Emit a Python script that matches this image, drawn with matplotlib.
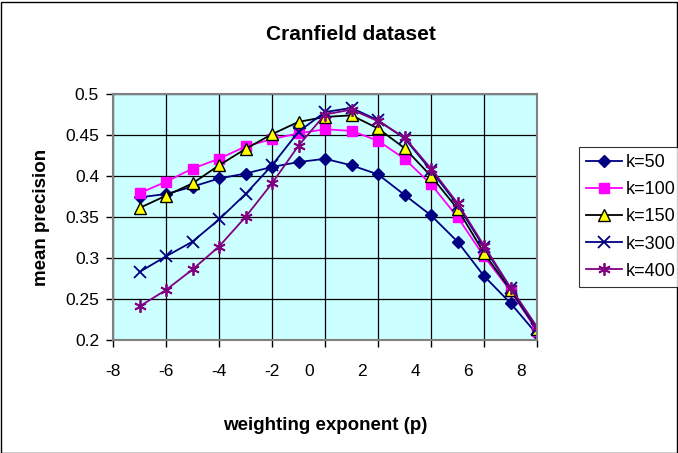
import matplotlib
matplotlib.use('Agg')
import matplotlib.pyplot as plt
from matplotlib.patches import Rectangle
from matplotlib.transforms import ScaledTranslation

plt.rcParams['font.family'] = ['Liberation Sans', 'DejaVu Sans']
plt.rcParams['axes.unicode_minus'] = False

p = [-7, -6, -5, -4, -3, -2, -1, 0, 1, 2, 3, 4, 5, 6, 7, 8]
k50 = [0.374, 0.378, 0.387, 0.397, 0.403, 0.411, 0.417, 0.421, 0.413, 0.402,
       0.377, 0.352, 0.320, 0.278, 0.245, 0.207]
k100 = [0.379, 0.393, 0.409, 0.421, 0.436, 0.445, 0.452, 0.457, 0.455, 0.443,
        0.421, 0.390, 0.350, 0.302, 0.260, 0.211]
k150 = [0.361, 0.376, 0.391, 0.413, 0.433, 0.451, 0.466, 0.472, 0.474, 0.458,
        0.434, 0.400, 0.360, 0.306, 0.261, 0.213]
k300 = [0.283, 0.302, 0.320, 0.347, 0.378, 0.413, 0.454, 0.478, 0.483, 0.468,
        0.446, 0.407, 0.365, 0.313, 0.263, 0.214]
k400 = [0.241, 0.261, 0.286, 0.314, 0.350, 0.391, 0.437, 0.475, 0.481, 0.467,
        0.447, 0.409, 0.367, 0.315, 0.264, 0.216]
yticks = [0.2, 0.25, 0.3, 0.35, 0.4, 0.45, 0.5]
ylabels = ['0.2', '0.25', '0.3', '0.35', '0.4', '0.45', '0.5']

W, H = 678, 453
fig = plt.figure(figsize=(W / 100, H / 100), dpi=100)
fig.patches.append(Rectangle((0.5 / W, 0.5 / H), 1 - 2 / W, 1 - 2 / H,
                             transform=fig.transFigure, fill=False,
                             edgecolor='black', linewidth=1))

ax = fig.add_axes([113 / W, (H - 340) / H, 424 / W, 246 / H])
ax.set_facecolor('#CCFFFF')

ax.plot(p, k50, color='#000080', marker='D', markersize=6, lw=1.3, label='k=50')
ax.plot(p, k100, color='#FF00FF', marker='s', markersize=7.5, lw=1.3, label='k=100')
ax.plot(p, k150, color='black', marker='^', markersize=8, markerfacecolor='#FFFF00',
        markeredgecolor='black', lw=1.3, label='k=150')
ax.plot(p, k300, color='#000080', marker='x', markersize=8, mew=1.3, lw=1.3, label='k=300')
ax.plot(p, k400, color='#800080', marker=(6, 2, 0), markersize=9, mew=1.3, lw=1.3,
        label='k=400')

ax.set_xlim(-8, 8)
ax.set_ylim(0.2, 0.5)
ax.set_xticks(range(-8, 9, 2))
ax.set_yticks(yticks)
ax.set_yticklabels(ylabels)
ax.grid(True, color='black', linewidth=0.9)
ax.set_axisbelow(True)
for s in ax.spines.values():
    s.set_color('#808080')
    s.set_linewidth(1.5)
ax.tick_params(direction='out', length=5, width=1, color='black', labelsize=12.5)
ax.tick_params(axis='y', pad=5)
ax.tick_params(axis='x', pad=12)

fig.text(351 / W, 1 - 35 / H, 'Cranfield dataset', ha='center', va='center',
         fontsize=15, fontweight='bold')
fig.text(325 / W, 1 - 426 / H, 'weighting exponent (p)', ha='center', va='center',
         fontsize=13.5, fontweight='bold')
fig.text(42 / W, 1 - 217 / H, 'mean precision', ha='center', va='center',
         rotation=90, fontsize=13.5, fontweight='bold')

leg = fig.legend(loc='upper left', bbox_to_anchor=(579 / W, 1 - 147 / H),
                 fontsize=13, frameon=True, fancybox=False, handlelength=2.0,
                 handletextpad=0.2, borderpad=0.4, labelspacing=0.56,
                 borderaxespad=0)
leg.get_frame().set_edgecolor('black')
leg.get_frame().set_linewidth(0.8)

# labels from 0 upward sit a bit left of their ticks in the original
fig.canvas.draw()
shift = ScaledTranslation(-0.16, 0, fig.dpi_scale_trans)
for tick in ax.xaxis.get_major_ticks():
    if tick.get_loc() >= 0:
        tick.label1.set_transform(tick.label1.get_transform() + shift)

fig.savefig('out.png', dpi=100)
